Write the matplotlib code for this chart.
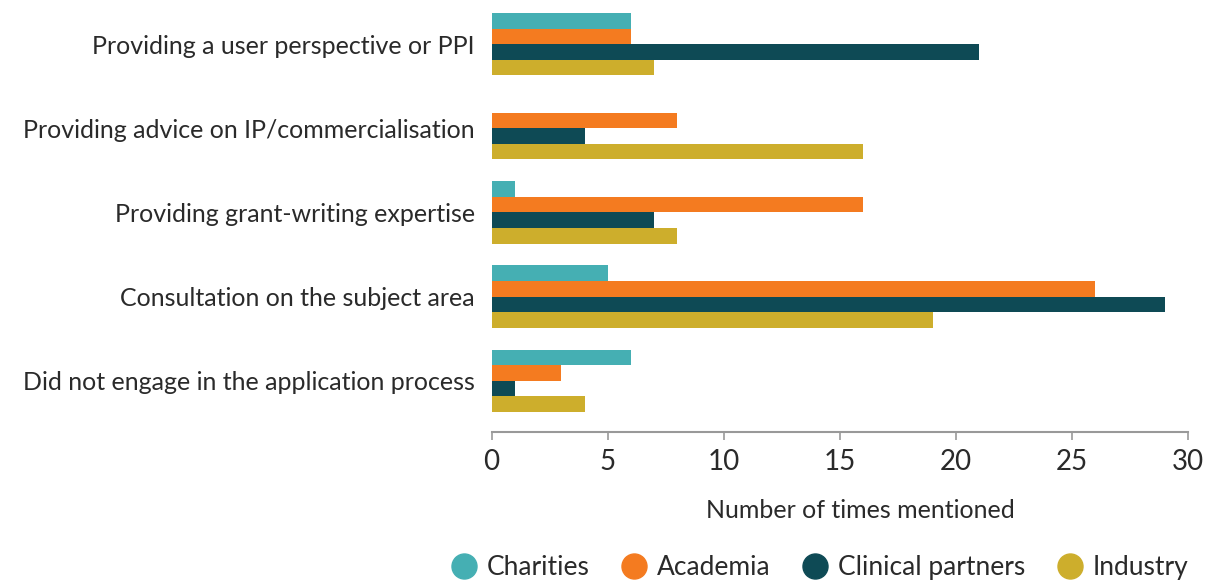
import matplotlib.pyplot as plt
import numpy as np

categories = ['Providing a user perspective or PPI',
              'Providing advice on IP/commercialisation',
              'Providing grant-writing expertise',
              'Consultation on the subject area',
              'Did not engage in the application process']
series = ['Charities', 'Academia', 'Clinical partners', 'Industry']
charities = [6, 0, 1, 5, 6]
academia = [6, 8, 16, 26, 3]
clinical = [21, 4, 7, 29, 1]
industry = [7, 16, 8, 19, 4]
colors = ['#45afb3', '#f47b20', '#0e4a55', '#cdae2c']

plt.rcParams['font.family'] = ['Lato', 'DejaVu Sans']
plt.rcParams['font.weight'] = 'normal'
txt = '#2a2a2a'

fig = plt.figure(figsize=(12.05, 5.85), dpi=100)
ax = fig.add_axes([0.408, 0.2615, 0.578, 0.7385])

y = np.arange(len(categories))
h = 0.185
for i, vals in enumerate([charities, academia, clinical, industry]):
    ax.barh(y + (i - 1.5) * h, vals, height=h, color=colors[i], label=series[i])

ax.set_ylim(4.61, -0.525)
ax.set_xlim(0, 30)
ax.set_yticks(y)
ax.set_yticklabels(categories, fontsize=18, color=txt)
ax.tick_params(axis='y', length=0, pad=12)
ax.set_xticks([0, 5, 10, 15, 20, 25, 30])
ax.tick_params(axis='x', labelsize=20, colors='#999999', labelcolor=txt,
               length=6, width=1.2, pad=6)
for s in ['top', 'right', 'left']:
    ax.spines[s].set_visible(False)
ax.spines['bottom'].set_color('#999999')
ax.spines['bottom'].set_linewidth(1.5)

ax.set_xlabel('Number of times mentioned', fontsize=18, color=txt)
ax.xaxis.set_label_coords(0.53, -0.155)

handles = [plt.Line2D([], [], marker='o', linestyle='', markersize=18,
                      color=c) for c in colors]
fig.legend(handles, series, loc='center', bbox_to_anchor=(0.68, 0.03),
           ncol=4, frameon=False, fontsize=19, handlelength=1.0,
           handletextpad=0.35, columnspacing=1.2, labelcolor=txt)

fig.savefig('out.png', dpi=100)
